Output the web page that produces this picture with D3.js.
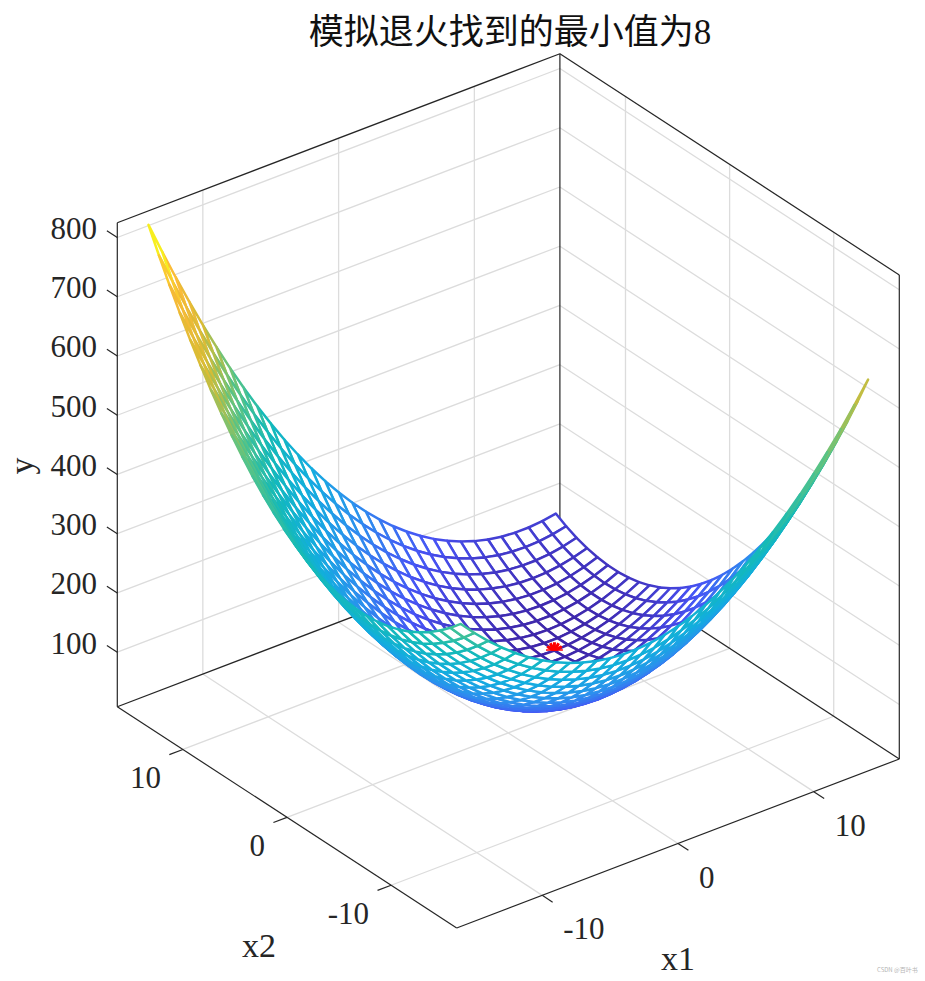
<!DOCTYPE html>
<html>
<head>
<meta charset="utf-8">
<script src="https://cdn.jsdelivr.net/npm/d3@7"></script>
<style>
    html, body { margin: 0; padding: 0; background: #fff; }
    svg { display: block; }
    text { font-family: "Liberation Serif", "Noto Sans CJK SC", serif; fill: #262626; }
</style>
</head>
<body>
<div id="chart"></div>
<script>
const titleText = '模拟退火找到的最小值为8';

const x1Values = [-15,-14,-13,-12,-11,-10,-9,-8,-7,-6,-5,-4,-3,-2,-1,0,1,2,3,4,5,6,7,8,9,10,11,12,13,14,15];
const x2Values = [-15,-14,-13,-12,-11,-10,-9,-8,-7,-6,-5,-4,-3,-2,-1,0,1,2,3,4,5,6,7,8,9,10,11,12,13,14,15];

// one row per x2 value, one column per x1 value
const yValues = [
    [495,471,449,429,411,395,381,369,359,351,345,341,339,339,341,345,351,359,369,381,395,411,429,449,471,495,521,549,579,611,645],
    [477,452,429,408,389,372,357,344,333,324,317,312,309,308,309,312,317,324,333,344,357,372,389,408,429,452,477,504,533,564,597],
    [461,435,411,389,369,351,335,321,309,299,291,285,281,279,279,281,285,291,299,309,321,335,351,369,389,411,435,461,489,519,551],
    [447,420,395,372,351,332,315,300,287,276,267,260,255,252,251,252,255,260,267,276,287,300,315,332,351,372,395,420,447,476,507],
    [435,407,381,357,335,315,297,281,267,255,245,237,231,227,225,225,227,231,237,245,255,267,281,297,315,335,357,381,407,435,465],
    [425,396,369,344,321,300,281,264,249,236,225,216,209,204,201,200,201,204,209,216,225,236,249,264,281,300,321,344,369,396,425],
    [417,387,359,333,309,287,267,249,233,219,207,197,189,183,179,177,177,179,183,189,197,207,219,233,249,267,287,309,333,359,387],
    [411,380,351,324,299,276,255,236,219,204,191,180,171,164,159,156,155,156,159,164,171,180,191,204,219,236,255,276,299,324,351],
    [407,375,345,317,291,267,245,225,207,191,177,165,155,147,141,137,135,135,137,141,147,155,165,177,191,207,225,245,267,291,317],
    [405,372,341,312,285,260,237,216,197,180,165,152,141,132,125,120,117,116,117,120,125,132,141,152,165,180,197,216,237,260,285],
    [405,371,339,309,281,255,231,209,189,171,155,141,129,119,111,105,101,99,99,101,105,111,119,129,141,155,171,189,209,231,255],
    [407,372,339,308,279,252,227,204,183,164,147,132,119,108,99,92,87,84,83,84,87,92,99,108,119,132,147,164,183,204,227],
    [411,375,341,309,279,251,225,201,179,159,141,125,111,99,89,81,75,71,69,69,71,75,81,89,99,111,125,141,159,179,201],
    [417,380,345,312,281,252,225,200,177,156,137,120,105,92,81,72,65,60,57,56,57,60,65,72,81,92,105,120,137,156,177],
    [425,387,351,317,285,255,227,201,177,155,135,117,101,87,75,65,57,51,47,45,45,47,51,57,65,75,87,101,117,135,155],
    [435,396,359,324,291,260,231,204,179,156,135,116,99,84,71,60,51,44,39,36,35,36,39,44,51,60,71,84,99,116,135],
    [447,407,369,333,299,267,237,209,183,159,137,117,99,83,69,57,47,39,33,29,27,27,29,33,39,47,57,69,83,99,117],
    [461,420,381,344,309,276,245,216,189,164,141,120,101,84,69,56,45,36,29,24,21,20,21,24,29,36,45,56,69,84,101],
    [477,435,395,357,321,287,255,225,197,171,147,125,105,87,71,57,45,35,27,21,17,15,15,17,21,27,35,45,57,71,87],
    [495,452,411,372,335,300,267,236,207,180,155,132,111,92,75,60,47,36,27,20,15,12,11,12,15,20,27,36,47,60,75],
    [515,471,429,389,351,315,281,249,219,191,165,141,119,99,81,65,51,39,29,21,15,11,9,9,11,15,21,29,39,51,65],
    [537,492,449,408,369,332,297,264,233,204,177,152,129,108,89,72,57,44,33,24,17,12,9,8,9,12,17,24,33,44,57],
    [561,515,471,429,389,351,315,281,249,219,191,165,141,119,99,81,65,51,39,29,21,15,11,9,9,11,15,21,29,39,51],
    [587,540,495,452,411,372,335,300,267,236,207,180,155,132,111,92,75,60,47,36,27,20,15,12,11,12,15,20,27,36,47],
    [615,567,521,477,435,395,357,321,287,255,225,197,171,147,125,105,87,71,57,45,35,27,21,17,15,15,17,21,27,35,45],
    [645,596,549,504,461,420,381,344,309,276,245,216,189,164,141,120,101,84,69,56,45,36,29,24,21,20,21,24,29,36,45],
    [677,627,579,533,489,447,407,369,333,299,267,237,209,183,159,137,117,99,83,69,57,47,39,33,29,27,27,29,33,39,47],
    [711,660,611,564,519,476,435,396,359,324,291,260,231,204,179,156,135,116,99,84,71,60,51,44,39,36,35,36,39,44,51],
    [747,695,645,597,551,507,465,425,387,351,317,285,255,227,201,177,155,135,117,101,87,75,65,57,51,47,45,45,47,51,57],
    [785,732,681,632,585,540,497,456,417,380,345,312,281,252,225,200,177,156,137,120,105,92,81,72,65,60,57,56,57,60,65],
    [825,771,719,669,621,575,531,489,449,411,375,341,309,279,251,225,201,179,159,141,125,111,99,89,81,75,71,69,69,71,75]
];

// simulated annealing result
const bestX1 = [8];
const bestX2 = [6];
const bestY = [8];

const x1Ticks = [-10, 0, 10];
const x2Ticks = [-10, 0, 10];
const yTicks = [100, 200, 300, 400, 500, 600, 700, 800];

const x1Lim = [-16.3, 16.3];
const x2Lim = [-16.3, 16.3];
const yLim = [8, 825];

// parula
const colorPositions = [0, 0.125, 0.25, 0.375, 0.5, 0.625, 0.75, 0.875, 0.94, 1];
const colorStops = ['#3e26a8', '#4753f5', '#2d8fee', '#12aede', '#14bab8', '#5cc483', '#d6bc35', '#fbb938', '#f7ed1e', '#f9fb15'];

const width = 925;
const height = 981;
const centerX = 508.3;
const centerY = 732.85;

// fixed 3D view: each data axis adds its own screen offset
const x1ToX = d3.scaleLinear().domain(x1Lim).range([-221.3, 221.3]);
const x1ToY = d3.scaleLinear().domain(x1Lim).range([84.5, -84.5]);
const x2ToX = d3.scaleLinear().domain(x2Lim).range([169.7, -169.7]);
const x2ToY = d3.scaleLinear().domain(x2Lim).range([110.65, -110.65]);
const yToY = d3.scaleLinear().domain(yLim).range([0, -484]);

const color = d3.scaleLinear()
    .domain(colorPositions.map(t => yLim[0] + (yLim[1] - yLim[0]) * t))
    .range(colorStops);

function project(a, b, y) {
    return [
        centerX + x1ToX(a) + x2ToX(b),
        centerY + x1ToY(a) + x2ToY(b) + yToY(y)
    ];
}

const svg = d3.select('#chart').append('svg')
    .attr('width', width)
    .attr('height', height);

function line3d(parent, p, q, stroke, w) {
    const s = project(...p);
    const e = project(...q);
    parent.append('line')
        .attr('x1', s[0]).attr('y1', s[1])
        .attr('x2', e[0]).attr('y2', e[1])
        .attr('stroke', stroke)
        .attr('stroke-width', w);
}

// grid on floor and the two back walls
const gridGroup = svg.append('g').attr('class', 'grid');
const gridColor = '#dcdcdc';
const gridWidth = 1.3;
x1Ticks.forEach(t => {
    line3d(gridGroup, [t, x2Lim[0], yLim[0]], [t, x2Lim[1], yLim[0]], gridColor, gridWidth);
    line3d(gridGroup, [t, x2Lim[1], yLim[0]], [t, x2Lim[1], yLim[1]], gridColor, gridWidth);
});
x2Ticks.forEach(t => {
    line3d(gridGroup, [x1Lim[0], t, yLim[0]], [x1Lim[1], t, yLim[0]], gridColor, gridWidth);
    line3d(gridGroup, [x1Lim[1], t, yLim[0]], [x1Lim[1], t, yLim[1]], gridColor, gridWidth);
});
yTicks.forEach(t => {
    line3d(gridGroup, [x1Lim[0], x2Lim[1], t], [x1Lim[1], x2Lim[1], t], gridColor, gridWidth);
    line3d(gridGroup, [x1Lim[1], x2Lim[1], t], [x1Lim[1], x2Lim[0], t], gridColor, gridWidth);
});

// box
const boxGroup = svg.append('g').attr('class', 'box');
const boxColor = '#262626';
const boxEdges = [
    [[x1Lim[0], x2Lim[1], yLim[0]], [x1Lim[1], x2Lim[1], yLim[0]]],
    [[x1Lim[1], x2Lim[1], yLim[0]], [x1Lim[1], x2Lim[0], yLim[0]]],
    [[x1Lim[1], x2Lim[1], yLim[0]], [x1Lim[1], x2Lim[1], yLim[1]]],
    [[x1Lim[0], x2Lim[1], yLim[1]], [x1Lim[1], x2Lim[1], yLim[1]]],
    [[x1Lim[1], x2Lim[1], yLim[1]], [x1Lim[1], x2Lim[0], yLim[1]]],
    [[x1Lim[1], x2Lim[0], yLim[0]], [x1Lim[1], x2Lim[0], yLim[1]]],
    [[x1Lim[0], x2Lim[1], yLim[0]], [x1Lim[0], x2Lim[1], yLim[1]]],
    [[x1Lim[0], x2Lim[1], yLim[0]], [x1Lim[0], x2Lim[0], yLim[0]]],
    [[x1Lim[0], x2Lim[0], yLim[0]], [x1Lim[1], x2Lim[0], yLim[0]]]
];
boxEdges.forEach(e => line3d(boxGroup, e[0], e[1], boxColor, 1.2));

// ticks
const tickLength = 1;
x1Ticks.forEach(t => line3d(boxGroup, [t, x2Lim[0], yLim[0]], [t, x2Lim[0] - tickLength, yLim[0]], boxColor, 1.2));
x2Ticks.forEach(t => line3d(boxGroup, [x1Lim[0], t, yLim[0]], [x1Lim[0] - tickLength, t, yLim[0]], boxColor, 1.2));
yTicks.forEach(t => line3d(boxGroup, [x1Lim[0], x2Lim[1], t], [x1Lim[0], x2Lim[1] + tickLength, t], boxColor, 1.2));

// mesh faces, far corner first so that nearer faces hide what is behind
const quads = [];
for (let j = x2Values.length - 2; j >= 0; j--) {
    for (let i = x1Values.length - 2; i >= 0; i--) {
        const corners = [[i, j], [i + 1, j], [i + 1, j + 1], [i, j + 1]];
        quads.push({
            points: corners.map(c => project(x1Values[c[0]], x2Values[c[1]], yValues[c[1]][c[0]])),
            value: d3.mean(corners, c => yValues[c[1]][c[0]])
        });
    }
}

svg.append('g').attr('class', 'mesh')
    .selectAll('polygon')
    .data(quads)
    .enter()
    .append('polygon')
    .attr('points', d => d.points.map(p => p.join(',')).join(' '))
    .attr('fill', '#fff')
    .attr('stroke', d => color(d.value))
    .attr('stroke-width', 2.5)
    .attr('stroke-linejoin', 'round');

// best point, only the part above the floor level shows
const best = bestX1.map((v, i) => project(v, bestX2[i], bestY[i]));
svg.append('clipPath').attr('id', 'best-clip')
    .append('rect')
    .attr('x', best[0][0] - 20)
    .attr('y', best[0][1] - 20)
    .attr('width', 40)
    .attr('height', 20);

const bestGroup = svg.append('g').attr('clip-path', 'url(#best-clip)');
best.forEach(p => {
    [0, 30].forEach(angle => {
        bestGroup.append('path')
            .attr('d', d3.symbol(d3.symbolAsterisk, 200)())
            .attr('transform', `translate(${p[0]},${p[1]}) rotate(${angle})`)
            .attr('fill', 'none')
            .attr('stroke', '#ff0000')
            .attr('stroke-width', 3);
    });
});

// labels
const tickFont = 31;
const labelFont = 34;

yTicks.forEach(t => {
    const p = project(x1Lim[0], x2Lim[1], t);
    svg.append('text')
        .attr('x', 97)
        .attr('y', p[1] + 1.5)
        .attr('text-anchor', 'end')
        .attr('font-size', tickFont)
        .text(t);
});

x2Ticks.forEach(t => {
    const p = project(x1Lim[0], t, yLim[0]);
    svg.append('text')
        .attr('x', p[0] - 22)
        .attr('y', p[1] + 39)
        .attr('text-anchor', 'end')
        .attr('font-size', tickFont)
        .text(t);
});

x1Ticks.forEach(t => {
    const p = project(t, x2Lim[0], yLim[0]);
    svg.append('text')
        .attr('x', p[0] + 21)
        .attr('y', p[1] + 44)
        .attr('text-anchor', 'start')
        .attr('font-size', tickFont)
        .text(t);
});

svg.append('text').attr('x', 242).attr('y', 957).attr('font-size', labelFont).text('x2');
svg.append('text').attr('x', 661).attr('y', 970).attr('font-size', labelFont).text('x1');
svg.append('text')
    .attr('transform', 'translate(33,466) rotate(-90)')
    .attr('text-anchor', 'middle')
    .attr('font-size', labelFont)
    .text('y');

svg.append('text')
    .attr('x', 510)
    .attr('y', 44)
    .attr('text-anchor', 'middle')
    .attr('font-size', 35)
    .style('fill', '#111')
    .text(titleText);

svg.append('text')
    .attr('x', 877)
    .attr('y', 972)
    .attr('font-size', 6)
    .style('fill', '#b5b5b5')
    .style('font-family', '"Noto Sans CJK SC", sans-serif')
    .text('CSDN @百叶书');
</script>
</body>
</html>
